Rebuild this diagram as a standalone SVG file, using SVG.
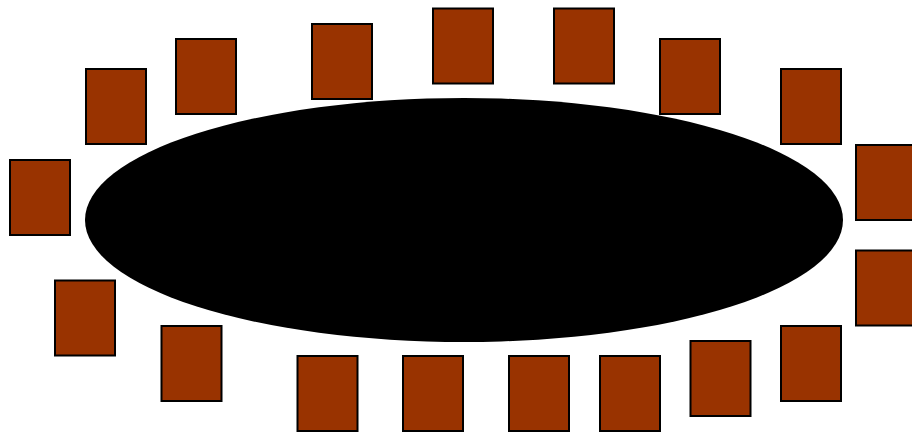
<svg xmlns="http://www.w3.org/2000/svg" width="912" height="437" viewBox="0 0 912 437">
<style>
.chair{fill:#993300;stroke:#000;stroke-width:2}
.table{fill:#000}
</style>
<rect width="912" height="437" fill="#fff"/>
<g id="table"><ellipse class="table" cx="464" cy="220" rx="379" ry="122"/></g>
<g id="chairs">
<g id="c1"><rect class="chair" x="10" y="160" width="60" height="75"/></g>
<g id="c2"><rect class="chair" x="86" y="69" width="60" height="75"/></g>
<g id="c3"><rect class="chair" x="176" y="39" width="60" height="75"/></g>
<g id="c4"><rect class="chair" x="312" y="24" width="60" height="75"/></g>
<g id="c5"><rect class="chair" x="433" y="8.5" width="60" height="75"/></g>
<g id="c6"><rect class="chair" x="554" y="8.5" width="60" height="75"/></g>
<g id="c7"><rect class="chair" x="660" y="39" width="60" height="75"/></g>
<g id="c8"><rect class="chair" x="781" y="69" width="60" height="75"/></g>
<g id="c9"><rect class="chair" x="856" y="145" width="60" height="75"/></g>
<g id="c10"><rect class="chair" x="856" y="250.5" width="60" height="75"/></g>
<g id="c11"><rect class="chair" x="781" y="326" width="60" height="75"/></g>
<g id="c12"><rect class="chair" x="690.5" y="341" width="60" height="75"/></g>
<g id="c13"><rect class="chair" x="600" y="356" width="60" height="75"/></g>
<g id="c14"><rect class="chair" x="509" y="356" width="60" height="75"/></g>
<g id="c15"><rect class="chair" x="403" y="356" width="60" height="75"/></g>
<g id="c16"><rect class="chair" x="297.5" y="356" width="60" height="75"/></g>
<g id="c17"><rect class="chair" x="161.5" y="326" width="60" height="75"/></g>
<g id="c18"><rect class="chair" x="55" y="280.5" width="60" height="75"/></g>
</g>
</svg>
